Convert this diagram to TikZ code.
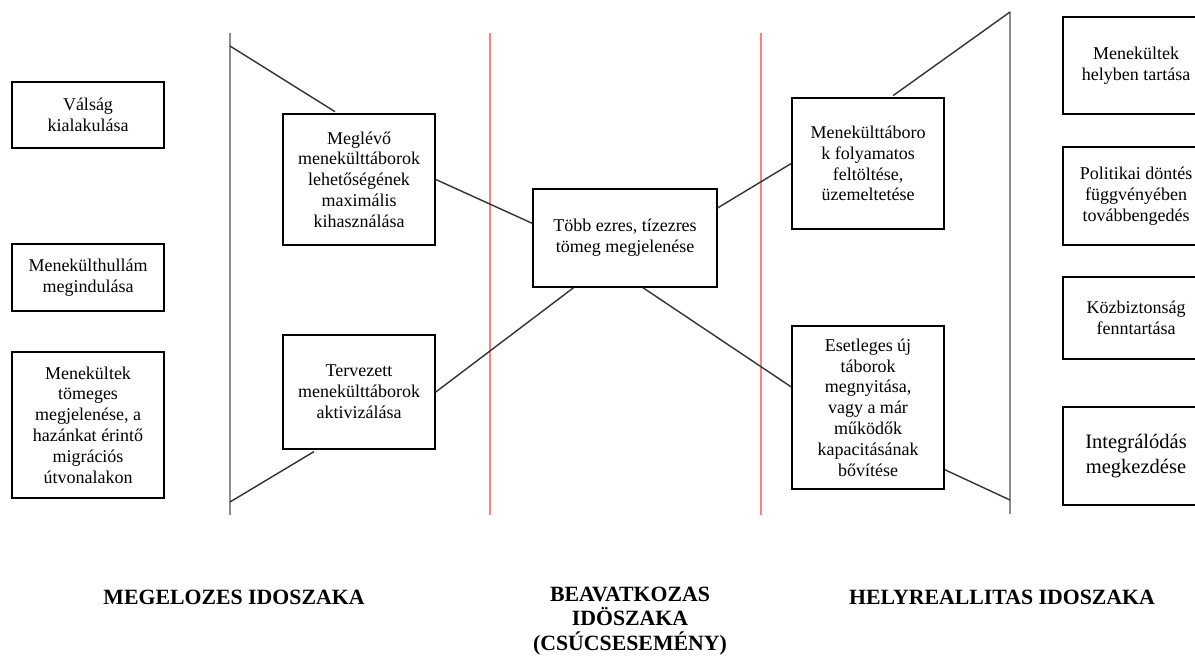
\documentclass[tikz,border=0pt]{standalone}
\usepackage{fontspec}
\setmainfont{Liberation Serif}
\begin{document}
\begin{tikzpicture}[x=0.025cm, y=-0.025cm,
    box/.style={rectangle, draw, line width=1.1pt, align=center, inner sep=2pt,
      font=\fontsize{12.8}{14.8}\selectfont},
    link/.style={draw=black!80, line width=1pt},
    phase/.style={draw=black!45, line width=2.1pt},
    redline/.style={draw=red!50, line width=1.9pt},
    phasename/.style={align=center, font=\bfseries\fontsize{15.5}{17.5}\selectfont}]
  \useasboundingbox (0,0) rectangle (1195,657);
  \node[box, minimum width=3.8cm, minimum height=1.65cm] (valsag) at (88,115) {Válság\\kialakulása};
  \node[box, minimum width=3.8cm, minimum height=1.675cm] (hullam) at (88,277.5) {Menekülthullám\\megindulása};
  \node[box, minimum width=3.8cm, minimum height=3.65cm] (tomeg) at (88,425) {Menekültek\\tömeges\\megjelenése, a\\hazánkat érintő\\migrációs\\útvonalakon};
  \node[box, minimum width=3.8cm, minimum height=3.275cm] (megl) at (359,179.5) {Meglévő\\menekülttáborok\\lehetőségének\\maximális\\kihasználása};
  \node[box, minimum width=3.8cm, minimum height=2.85cm] (terv) at (359,392) {Tervezett\\menekülttáborok\\aktivizálása};
  \node[box, minimum width=4.6cm, minimum height=2.45cm] (tobb) at (625,238) {Több ezres, tízezres\\tömeg megjelenése};
  \node[box, minimum width=3.8cm, minimum height=3.275cm] (mtab) at (868,163.5) {Menekülttáboro\\k folyamatos\\feltöltése,\\üzemeltetése};
  \node[box, minimum width=3.8cm, minimum height=4.075cm] (esetl) at (868,407.5) {Esetleges új\\táborok\\megnyitása,\\vagy a már\\működők\\kapacitásának\\bővítése};
  \node[box, minimum width=3.65cm, minimum height=2.425cm] (helyben) at (1136,65.5) {Menekültek\\helyben tartása};
  \node[box, minimum width=3.65cm, minimum height=2.45cm] (politika) at (1136,196) {Politikai döntés\\függvényében\\továbbengedés};
  \node[box, minimum width=3.65cm, minimum height=2.05cm] (kozbiz) at (1136,318) {Közbiztonság\\fenntartása};
  \node[box, minimum width=3.65cm, minimum height=2.45cm, font=\fontsize{14.6}{17.7}\selectfont] (integr) at (1136,456) {Integrálódás\\megkezdése};
  \coordinate (ltop) at (230,33);
  \coordinate (lbot) at (230,515);
  \coordinate (lup) at (230,46);
  \coordinate (ldown) at (230,502);
  \coordinate (rtop) at (1010,12);
  \coordinate (rbot) at (1010,514);
  \coordinate (rdown) at (1010,500);
  \coordinate (sepatop) at (490,33);
  \coordinate (sepabot) at (490,515);
  \coordinate (sepbtop) at (761,33);
  \coordinate (sepbbot) at (761,515);
  \draw[phase] (ltop) -- (lbot);
  \draw[phase] (rtop) -- (rbot);
  \draw[redline] (sepatop) -- (sepabot);
  \draw[redline] (sepbtop) -- (sepbbot);
  \draw[link, shorten >=2pt] (lup) -- (megl.108);
  \draw[link, shorten >=2.5pt] (ldown) -- (terv.234);
  \draw[link] (megl.east) -- (tobb.171);
  \draw[link] (terv.east) -- (tobb.224);
  \draw[link] (tobb.18) -- (mtab.west);
  \draw[link] (tobb.290) -- (esetl.165);
  \draw[link, shorten <=2pt] (mtab.71) -- (rtop);
  \draw[link] (esetl.321) -- (rdown);
  \node[phasename] (megelozes) at (234,597) {MEGELOZES IDOSZAKA};
  \node[phasename] (beavatkozas) at (630,621) {BEAVATKOZAS\\IDÖSZAKA\\(CSÚCSESEMÉNY)};
  \node[phasename] (helyreallitas) at (1002,597) {HELYREALLITAS IDOSZAKA};
\end{tikzpicture}
\end{document}
